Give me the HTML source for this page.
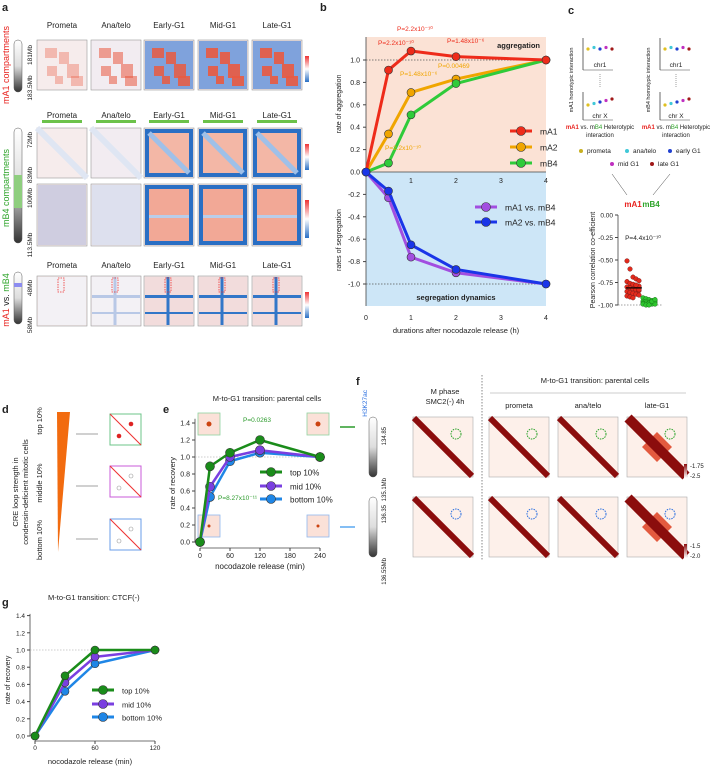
<!DOCTYPE html>
<html><head><meta charset="utf-8"><style>
body{margin:0;background:#fff;}
svg{display:block;font-family:"Liberation Sans",Arial,sans-serif;}
</style></head><body>
<svg id="fig" width="716" height="767" viewBox="0 0 716 767" xmlns="http://www.w3.org/2000/svg">
<g id="A"></g>
<g id="B"></g>
<g id="C"></g>
<g id="D"></g>
<g id="E"></g>
<g id="F"></g>
<g id="G"></g>
</svg>
<script>
// ---- data ----
const bHours = [0, 0.5, 1, 2, 4];
const bMA1 = [0, 0.91, 1.08, 1.03, 1.0];
const bMA2 = [0, 0.34, 0.71, 0.83, 1.0];
const bMB4 = [0, 0.08, 0.51, 0.79, 1.0];
const bSegA1B4 = [0, -0.23, -0.76, -0.90, -1.0];
const bSegA2B4 = [0, -0.17, -0.65, -0.87, -1.0];
const bXTicks = [0, 1, 2, 3, 4];
const bYTicks = [1.0, 0.8, 0.6, 0.4, 0.2, 0.0, -0.2, -0.4, -0.6, -0.8, -1.0];
const eMinutes = [0, 20, 60, 120, 240];
const eTop = [0, 0.89, 1.05, 1.20, 1.00];
const eMid = [0, 0.65, 1.00, 1.08, 1.00];
const eBottom = [0, 0.53, 0.95, 1.05, 1.00];
const eXTicks = [0, 60, 120, 180, 240];
const recYTicks = [0, 0.2, 0.4, 0.6, 0.8, 1.0, 1.2, 1.4];
const gMinutes = [0, 30, 60, 120];
const gTop = [0, 0.70, 1.00, 1.00];
const gMid = [0, 0.62, 0.92, 1.00];
const gBottom = [0, 0.52, 0.84, 1.00];
const gXTicks = [0, 60, 120];
const cMA1 = [-0.51,-0.60,-0.69,-0.71,-0.73,-0.74,-0.76,-0.77,-0.78,-0.79,-0.80,-0.81,-0.82,-0.83,-0.84,-0.85,-0.86,-0.87,-0.88,-0.89,-0.90,-0.91,-0.92,-0.78,-0.83];
const cMB4 = [-0.92,-0.93,-0.94,-0.95,-0.95,-0.96,-0.96,-0.97,-0.97,-0.97,-0.98,-0.98,-0.98,-0.99,-0.99,-0.99,-1.0,-1.0,-0.96,-0.94];
const cYTicks = [0, -0.25, -0.5, -0.75, -1.0];

const NS = "http://www.w3.org/2000/svg";
function el(parent, tag, attrs, text){
  const e = document.createElementNS(NS, tag);
  for (const k in attrs) e.setAttribute(k, attrs[k]);
  if (text !== undefined) e.textContent = text;
  parent.appendChild(e);
  return e;
}
function T(p, x, y, s, size, opts){
  opts = opts || {};
  const t = el(p, 'text', {x:x, y:y, 'font-size':size, fill:opts.fill||'#222', 'text-anchor':opts.anchor||'start', 'font-weight':opts.bold?'bold':'normal'}, s);
  if (opts.rot) t.setAttribute('transform', `rotate(${opts.rot} ${x} ${y})`);
  
  
  return t;
}
function series(p, xs, ys, sx, sy, color, name, w, r){
  const pts = xs.map((x,i)=>sx(x)+','+sy(ys[i])).join(' ');
  const pl = el(p,'polyline',{points:pts, fill:'none', stroke:color, 'stroke-width':w||3, 'stroke-linejoin':'round'});
  
  
  xs.forEach((x,i)=>{
    const c = el(p,'circle',{cx:sx(x), cy:sy(ys[i]), r:r||4, fill:color, stroke:'#333', 'stroke-width':0.6});
    
    
  });
}
function legendEntry(p, x, y, color, label, size){
  el(p,'line',{x1:x, y1:y, x2:x+22, y2:y, stroke:color, 'stroke-width':3});
  const c = el(p,'circle',{cx:x+11, cy:y, r:4.5, fill:color, stroke:'#333','stroke-width':0.6});
  
  
  T(p, x+30, y+3.5, label, size||9, {name:'legend-entry'});
}
function panelLetter(x,y,s){ T(document.getElementById('fig'), x, y, s, 11, {bold:true, name:'panel-letter'}); }
const defs = el(document.getElementById('fig'),'defs',{});

// ---- Panel A (heatmaps) ----
const A = document.getElementById('A');
const stages = ['Prometa','Ana/telo','Early-G1','Mid-G1','Late-G1'];
const colX = [37, 91, 144, 198, 252];
function heat(x,y,w,h,kind,stage){
  const g = el(A,'g',{});
  
  
  const strong = stage>=2;
  const base = stage===0 ? '#f6ecec' : stage===1 ? '#f2ecf1' : '#f3e6e6';
  el(g,'rect',{x:x,y:y,width:w,height:h,fill:base,stroke:'#999','stroke-width':0.6});
  if (kind==='mA1'){
    if (strong){ el(g,'rect',{x:x+1,y:y+1,width:w-2,height:h-2,fill:'#7fa2dc'}); }
    const op = [0.35,0.55,0.85,0.9,0.9][stage];
    [[8,8,12,10],[22,12,10,12],[30,24,12,14],[10,26,10,10],[34,36,12,10],[18,36,8,8]].forEach(b=>{
      el(g,'rect',{x:x+b[0],y:y+b[1],width:b[2],height:b[3],fill:'#ea5a40',opacity:op});
    });
  } else if (kind==='mB4a'){
    if (strong){
      el(g,'rect',{x:x+1,y:y+1,width:w-2,height:h-2,fill:'#2a6fc4'});
      el(g,'rect',{x:x+5,y:y+5,width:w-10,height:h-10,fill:'#f3b7a6'});
      el(g,'line',{x1:x+5,y1:y+5,x2:x+w-5,y2:y+h-5,stroke:'#9fc0e8','stroke-width':5});
    } else {
      el(g,'line',{x1:x,y1:y,x2:x+w,y2:y+h,stroke:'#dfe6f3','stroke-width':6});
    }
  } else if (kind==='mB4b'){
    if (strong){
      el(g,'rect',{x:x+1,y:y+1,width:w-2,height:h-2,fill:'#2a6fc4'});
      el(g,'rect',{x:x+5,y:y+5,width:w-10,height:h-10,fill:'#f2a896'});
      el(g,'rect',{x:x+5,y:y+h*0.5,width:w-10,height:3,fill:'#b9cdea'});
    } else {
      el(g,'rect',{x:x+1,y:y+1,width:w-2,height:h-2,fill: stage===0?'#cfcde0':'#dde0ee'});
    }
  } else {
    el(g,'rect',{x:x+1,y:y+1,width:w-2,height:h-2,fill: strong?'#f2dcdc':'#f3f1f5'});
    if (stage>=1){
      const c = strong?'#3276c8':'#b8c8e6';
      el(g,'rect',{x:x+1,y:y+h*0.38,width:w-2,height:3,fill:c});
      el(g,'rect',{x:x+w*0.45,y:y+1,width:3,height:h-2,fill:c});
      el(g,'rect',{x:x+1,y:y+h*0.72,width:w-2,height:2,fill:c});
    }
    el(g,'rect',{x:x+w*0.42,y:y+2,width:6,height:14,fill:'none',stroke:'#e33','stroke-width':0.8,'stroke-dasharray':'1.5,1'});
  }
}
panelLetter(2,11,'a');
[[28,40,50,'mA1'],[118,128,50,'mB4a'],[null,184,62,'mB4b'],[268,276,50,'mix']].forEach(r=>{
  if (r[0]!==null) stages.forEach((s,i)=>T(A, colX[i]+25, r[0], s, 8, {anchor:'middle',name:'stage-title'}));
  stages.forEach((s,i)=>heat(colX[i], r[1], 50, r[2], r[3], i));
});
colX.forEach(x=>{ el(A,'rect',{x:x+5,y:120,width:40,height:3,fill:'#6cc24a'}); });
function chrom(p,x,y,h){
  const g = el(p,'rect',{x:x,y:y,width:8,height:h,rx:4,fill:'url(#chrGrad)',stroke:'#555','stroke-width':0.5});
   
}
const lg = el(defs,'linearGradient',{id:'chrGrad',x1:0,y1:0,x2:0,y2:1});
el(lg,'stop',{offset:'0%','stop-color':'#fff'}); el(lg,'stop',{offset:'50%','stop-color':'#ddd'}); el(lg,'stop',{offset:'100%','stop-color':'#333'});
chrom(A,14,40,52); chrom(A,14,128,115); chrom(A,14,272,52);
el(A,'rect',{x:14,y:175,width:8,height:33,fill:'#8fce7f'});
el(A,'rect',{x:14,y:283,width:8,height:4,fill:'#8c8cf0'});
T(A,9,65,'mA1 compartments',9,{fill:'#e8231f',rot:-90,anchor:'middle',name:'row-label'});
T(A,9,188,'mB4 compartments',9,{fill:'#2ea42a',rot:-90,anchor:'middle',name:'row-label'});
const r3 = el(A,'text',{x:9,y:300,'font-size':9,'text-anchor':'middle',transform:'rotate(-90 9 300)'});
 
el(r3,'tspan',{fill:'#e8231f'},'mA1 '); el(r3,'tspan',{fill:'#222'},'vs. '); el(r3,'tspan',{fill:'#2ea42a'},'mB4');
[['181Mb',32,55],['183.5Mb',32,88],['72Mb',32,140],['83Mb',32,175],['100Mb',32,198],['113.5Mb',32,245],['48Mb',32,288],['58Mb',32,325]].forEach(l=>T(A,l[1],l[2],l[0],6.5,{rot:-90,anchor:'middle',name:'coordinate-label'}));
const cb = el(defs,'linearGradient',{id:'cbar',x1:0,y1:0,x2:0,y2:1});
el(cb,'stop',{offset:'0%','stop-color':'#e33'}); el(cb,'stop',{offset:'50%','stop-color':'#fff'}); el(cb,'stop',{offset:'100%','stop-color':'#2a6fc4'});
[[304,40,48],[304,128,48],[304,184,60],[304,276,48]].forEach(b=>{
  el(A,'rect',{x:b[0]+1,y:b[1]+16,width:4,height:b[2]-22,fill:'url(#cbar)'});
});

// ---- Panel B ----
const B = document.getElementById('B');
panelLetter(320,11,'b');
const bx = h => 366 + h*45;
const by = v => 172 - v*112;
el(B,'rect',{x:366,y:37,width:180,height:135,fill:'#fbe2d5'});
el(B,'rect',{x:366,y:172,width:180,height:134,fill:'#cde6f7'});
el(B,'line',{x1:366,y1:37,x2:366,y2:306,stroke:'#444','stroke-width':0.8});
el(B,'line',{x1:366,y1:172,x2:546,y2:172,stroke:'#444','stroke-width':0.8});
el(B,'line',{x1:366,y1:by(1),x2:546,y2:by(1),stroke:'#555','stroke-width':0.7,'stroke-dasharray':'1.5,1.5'});
el(B,'line',{x1:366,y1:by(-1),x2:546,y2:by(-1),stroke:'#555','stroke-width':0.7,'stroke-dasharray':'1.5,1.5'});
bYTicks.forEach(v=>{ el(B,'line',{x1:363,y1:by(v),x2:366,y2:by(v),stroke:'#444'}); T(B,360,by(v)+2.5,v.toFixed(1),7,{anchor:'end',name:'y-tick-label'}); });
bXTicks.forEach(v=>{ if(v>0){T(B,bx(v),183,String(v),7,{anchor:'middle',name:'x-tick-label'});} T(B,bx(v),320,String(v),7,{anchor:'middle',name:'x-tick-label'}); });
T(B,456,333,'durations after nocodazole release (h)',7.5,{anchor:'middle',name:'x-axis-title'});
T(B,341,104,'rate of aggregation',7,{rot:-90,anchor:'middle',name:'y-axis-title'});
T(B,341,240,'rates of segregation',7,{rot:-90,anchor:'middle',name:'y-axis-title'});
T(B,540,48,'aggregation',7.5,{anchor:'end',bold:true,name:'region-label'});
T(B,456,300,'segregation dynamics',7.5,{anchor:'middle',bold:true,name:'region-label'});
series(B,bHours,bMA2,bx,by,'#f0a500','mA2');
series(B,bHours,bMB4,bx,by,'#2fcb3a','mB4');
series(B,bHours,bMA1,bx,by,'#ee2b1a','mA1');
series(B,bHours,bSegA1B4,bx,by,'#a24ee0','mA1-vs-mB4');
series(B,bHours,bSegA2B4,bx,by,'#1a35e8','mA2-vs-mB4');
legendEntry(B,510,131,'#ee2b1a','mA1',8.5);
legendEntry(B,510,147,'#f0a500','mA2',8.5);
legendEntry(B,510,163,'#2fcb3a','mB4',8.5);
legendEntry(B,475,207,'#a24ee0','mA1 vs. mB4',8.5);
legendEntry(B,475,222,'#1a35e8','mA2 vs. mB4',8.5);
T(B,378,45,'P=2.2x10⁻¹⁰',6.5,{fill:'#ee2b1a',name:'p-value'});
T(B,397,31,'P=2.2x10⁻¹⁰',6.5,{fill:'#ee2b1a',name:'p-value'});
T(B,447,43,'P=1.48x10⁻⁶',6.5,{fill:'#ee2b1a',name:'p-value'});
T(B,400,76,'P=1.48x10⁻⁶',6.5,{fill:'#f0a500',name:'p-value'});
T(B,438,68,'P=0.00469',6.5,{fill:'#f0a500',name:'p-value'});
T(B,385,150,'P=2.2x10⁻¹⁰',6.5,{fill:'#f0a500',name:'p-value'});

// ---- Panel C ----
const C = document.getElementById('C');
panelLetter(568,14,'c');
[[583,600],[660,676]].forEach((p,k)=>{
  const ax=p[0], cx=p[1];
  el(C,'line',{x1:ax,y1:38,x2:ax,y2:70,stroke:'#444','stroke-width':0.8});
  el(C,'line',{x1:ax,y1:70,x2:ax+30,y2:70,stroke:'#444','stroke-width':0.6});
  el(C,'line',{x1:ax,y1:92,x2:ax,y2:120,stroke:'#444','stroke-width':0.8});
  el(C,'line',{x1:ax,y1:120,x2:ax+30,y2:120,stroke:'#444','stroke-width':0.6});
  T(C,cx,67,'chr1',6.5,{anchor:'middle',name:'schematic-label'});
  T(C,cx,118,'chr X',6.5,{anchor:'middle',name:'schematic-label'});
  el(C,'line',{x1:cx,y1:74,x2:cx,y2:88,stroke:'#444','stroke-width':0.5,'stroke-dasharray':'1,1'});
  ['#e0c020','#40c8d8','#2040d0','#c030c0','#a01818'].forEach((c,i)=>{
    el(C,'circle',{cx:ax+5+i*6,cy:49-(i%2)*1.5,r:1.6,fill:c});
    el(C,'circle',{cx:ax+5+i*6,cy:105-i*1.5,r:1.6,fill:c});
  });
  T(C,ax-10,80,(k?'mB4':'mA1')+' homotypic interaction',5.5,{rot:-90,anchor:'middle',name:'schematic-label'});
  const ht = el(C,'text',{x:cx,y:129,'font-size':6,'text-anchor':'middle'});
   
  el(ht,'tspan',{fill:'#e8231f','font-weight':'bold'},'mA1'); el(ht,'tspan',{fill:'#222'},' vs. m'); el(ht,'tspan',{fill:'#2ea42a'},'B4'); el(ht,'tspan',{fill:'#222'},' Heterotypic');
  T(C,cx,137,'interaction',6,{anchor:'middle',name:'schematic-label'});
});
[['prometa','#c8b020',581,153],['ana/telo','#40c8d8',627,153],['early G1','#2040d0',670,153],['mid G1','#c030c0',612,166],['late G1','#a01818',652,166]].forEach(l=>{
  el(C,'circle',{cx:l[2],cy:l[3]-2,r:2,fill:l[1]});
  T(C,l[2]+6,l[3],l[0],6.5,{name:'legend-entry'});
});
el(C,'line',{x1:612,y1:174,x2:627,y2:195,stroke:'#444','stroke-width':0.5});
el(C,'line',{x1:670,y1:174,x2:653,y2:195,stroke:'#444','stroke-width':0.5});
T(C,633,207,'mA1',8,{fill:'#e8231f',anchor:'middle',bold:true,name:'group-label'});
T(C,651,207,'mB4',8,{fill:'#2ea42a',anchor:'middle',bold:true,name:'group-label'});
const cy = v => 215 - v*90;
el(C,'line',{x1:618,y1:215,x2:618,y2:305,stroke:'#444','stroke-width':0.8});
el(C,'line',{x1:618,y1:305,x2:662,y2:305,stroke:'#444','stroke-width':0.6,'stroke-dasharray':'1.5,1.5'});
cYTicks.forEach(v=>{ el(C,'line',{x1:615,y1:cy(v),x2:618,y2:cy(v),stroke:'#444'}); T(C,613,cy(v)+2.5,v.toFixed(2),6.5,{anchor:'end',name:'y-tick-label'}); });
T(C,595,260,'Pearson correlation co-efficient',7,{rot:-90,anchor:'middle',name:'y-axis-title'});
T(C,643,240,'P=4.4x10⁻¹⁰',6.5,{anchor:'middle',name:'p-value'});
cMA1.forEach((v,i)=>{ const c=el(C,'circle',{cx:627+(i%5)*3,cy:cy(v),r:2.3,fill:'#e32a1c',stroke:'#611','stroke-width':0.4});   });
cMB4.forEach((v,i)=>{ const c=el(C,'circle',{cx:643+(i%5)*3,cy:cy(v),r:2.3,fill:'#2ec52e',stroke:'#161','stroke-width':0.4});   });
el(C,'line',{x1:626,y1:cy(-0.81),x2:642,y2:cy(-0.81),stroke:'#000','stroke-width':1.2});

// ---- Panel D ----
const D = document.getElementById('D');
panelLetter(2,413,'d');
T(D,18,492,'CRE loop strength in',7.5,{rot:-90,anchor:'middle',name:'y-axis-title'});
T(D,28,492,'condensin-deficient mitotic cells',7.5,{rot:-90,anchor:'middle',name:'y-axis-title'});
el(D,'polygon',{points:'57,412 70,412 58,552',fill:'#f26b0f'});
[['top 10%',421],['middle 10%',483],['bottom 10%',540]].forEach(l=>T(D,42,l[1],l[0],7.5,{rot:-90,anchor:'middle',name:'group-label'}));
[[414,'#6cc48a'],[466,'#c95bd8'],[519,'#6a9de8']].forEach((b,i)=>{
  el(D,'line',{x1:76,y1:b[0]+20,x2:98,y2:b[0]+20,stroke:'#444','stroke-width':0.6});
  el(D,'rect',{x:110,y:b[0],width:31,height:31,fill:'#fff',stroke:b[1],'stroke-width':1});
  el(D,'line',{x1:110,y1:b[0],x2:141,y2:b[0]+31,stroke:'#e33','stroke-width':1});
  el(D,'circle',{cx:131,cy:b[0]+10,r:2,fill:i?'#fff':'#d22',stroke:i?'#999':'#d22','stroke-width':0.6});
  el(D,'circle',{cx:119,cy:b[0]+22,r:2,fill:i?'#fff':'#d22',stroke:i?'#999':'#d22','stroke-width':0.6});
});

// ---- Panel E ----
const E = document.getElementById('E');
panelLetter(163,413,'e');
const ex = m => 200 + m*0.5;
const ey = v => 542 - v*85;
T(E,267,401,'M-to-G1 transition: parental cells',7.5,{anchor:'middle',name:'chart-title'});
el(E,'line',{x1:195,y1:ey(1.45),x2:195,y2:ey(0),stroke:'#444','stroke-width':0.8});
el(E,'line',{x1:ex(0),y1:548,x2:ex(240),y2:548,stroke:'#444','stroke-width':0.8});
el(E,'line',{x1:195,y1:ey(1),x2:ex(240),y2:ey(1),stroke:'#999','stroke-width':0.6,'stroke-dasharray':'1.5,1.5'});
recYTicks.forEach(v=>{ el(E,'line',{x1:192,y1:ey(v),x2:195,y2:ey(v),stroke:'#444'}); T(E,190,ey(v)+2.5,v.toFixed(1),7,{anchor:'end',name:'y-tick-label'}); });
eXTicks.forEach(v=>{ el(E,'line',{x1:ex(v),y1:548,x2:ex(v),y2:551,stroke:'#444'}); T(E,ex(v),558,String(v),7,{anchor:'middle',name:'x-tick-label'}); });
T(E,260,569,'nocodazole release (min)',8,{anchor:'middle',name:'x-axis-title'});
T(E,175,483,'rate of recovery',7.5,{rot:-90,anchor:'middle',name:'y-axis-title'});
[[198,413],[307,413],[198,515],[307,515]].forEach((p,i)=>{
  el(E,'rect',{x:p[0],y:p[1],width:22,height:22,fill:'#fbe1d8',stroke:i<2?'#8fd3a0':'#8fb8ef','stroke-width':0.8});
  el(E,'circle',{cx:p[0]+11,cy:p[1]+11,r:i<2?2.5:1.5,fill:'#c41'});
});
series(E,eMinutes,eBottom,ex,ey,'#1f86e6','bottom-10',2.5,4.5);
series(E,eMinutes,eMid,ex,ey,'#7a3fe0','mid-10',2.5,4.5);
series(E,eMinutes,eTop,ex,ey,'#1a8c1a','top-10',2.5,4.5);
legendEntry(E,260,472,'#1a8c1a','top 10%',8);
legendEntry(E,260,486,'#7a3fe0','mid 10%',8);
legendEntry(E,260,499,'#1f86e6','bottom 10%',8);
T(E,243,422,'P=0.0263',6.5,{fill:'#2a9a2a',name:'p-value'});
T(E,218,500,'P=8.27x10⁻¹¹',6.5,{fill:'#2a9a2a',name:'p-value'});
el(E,'line',{x1:340,y1:427,x2:355,y2:427,stroke:'#2a9a2a','stroke-width':1.5});
el(E,'line',{x1:340,y1:527,x2:355,y2:527,stroke:'#5aa8f0','stroke-width':1.5});

// ---- Panel F ----
const F = document.getElementById('F');
panelLetter(356,385,'f');
T(F,367,390,'H3K27ac',6.5,{fill:'#2a6fe0',rot:-90,anchor:'end',name:'track-label'});
T(F,445,394,'M phase',7.5,{anchor:'middle',name:'column-title'});
T(F,445,404,'SMC2(-) 4h',7.5,{anchor:'middle',name:'column-title'});
T(F,595,383,'M-to-G1 transition: parental cells',7.5,{anchor:'middle',name:'column-title'});
el(F,'line',{x1:490,y1:393,x2:686,y2:393,stroke:'#999','stroke-width':0.6});
el(F,'line',{x1:482,y1:375,x2:482,y2:560,stroke:'#555','stroke-width':0.7,'stroke-dasharray':'1.5,1.5'});
[['prometa',519],['ana/telo',588],['late-G1',657]].forEach(l=>T(F,l[1],408,l[0],7.5,{anchor:'middle',name:'column-title'}));
chrom(F,369,417,60); chrom(F,369,497,60);
T(F,386,427,'134.85',6,{rot:-90,anchor:'end',name:'coordinate-label'});
T(F,386,478,'135.1Mb',6,{rot:-90,anchor:'end',name:'coordinate-label'});
T(F,386,505,'136.35',6,{rot:-90,anchor:'end',name:'coordinate-label'});
T(F,386,558,'136.55Mb',6,{rot:-90,anchor:'end',name:'coordinate-label'});
[413,489,558,627].forEach((cx0,i)=>{
  [417,497].forEach((y,r)=>{
    const g=el(F,'g',{});  
    el(g,'rect',{x:cx0,y:y,width:60,height:60,fill:'#fdf0ea',stroke:'#aaa','stroke-width':0.6});
    if(i===3) el(g,'polygon',{points:`${cx0+15},${y+30} ${cx0+30},${y+15} ${cx0+45},${y+30} ${cx0+30},${y+45}`,fill:'#e35a3f'});
    el(g,'line',{x1:cx0+1,y1:y+1,x2:cx0+59,y2:y+59,stroke:'#8b0d0d','stroke-width':i===3?10:6});
    el(g,'circle',{cx:cx0+43,cy:y+17,r:5,fill:'none',stroke:r?'#2a6fe0':'#2aa32a','stroke-width':1,'stroke-dasharray':'1.5,1'});
  });
});
const rg = el(defs,'linearGradient',{id:'red',x1:0,y1:0,x2:0,y2:1});
el(rg,'stop',{offset:'0%','stop-color':'#8b0d0d'}); el(rg,'stop',{offset:'100%','stop-color':'#fff'});
[[690,478,'-1.75','-2.5'],[690,558,'-1.5','-2.0']].forEach(b=>{
  el(F,'rect',{x:b[0]-6,y:b[1]-14,width:3,height:14,fill:'url(#red)'});
  T(F,b[0],b[1]-10,b[2],6,{name:'colorbar-label'}); T(F,b[0],b[1],b[3],6,{name:'colorbar-label'});
});

// ---- Panel G ----
const G = document.getElementById('G');
panelLetter(2,606,'g');
const gx = m => 35 + m;
const gy = v => 736 - v*86;
T(G,48,600,'M-to-G1 transition: CTCF(-)',7.5,{name:'chart-title'});
el(G,'line',{x1:30,y1:gy(1.42),x2:30,y2:gy(0),stroke:'#444','stroke-width':0.8});
el(G,'line',{x1:gx(0),y1:741,x2:gx(120),y2:741,stroke:'#444','stroke-width':0.8});
el(G,'line',{x1:30,y1:gy(1),x2:gx(120),y2:gy(1),stroke:'#999','stroke-width':0.6,'stroke-dasharray':'1.5,1.5'});
recYTicks.forEach(v=>{ el(G,'line',{x1:27,y1:gy(v),x2:30,y2:gy(v),stroke:'#444'}); T(G,25,gy(v)+2.5,v.toFixed(1),6.5,{anchor:'end',name:'y-tick-label'}); });
gXTicks.forEach(v=>{ el(G,'line',{x1:gx(v),y1:741,x2:gx(v),y2:744,stroke:'#444'}); T(G,gx(v),750,String(v),6.5,{anchor:'middle',name:'x-tick-label'}); });
T(G,90,764,'nocodazole release (min)',7.5,{anchor:'middle',name:'x-axis-title'});
T(G,10,680,'rate of recovery',7,{rot:-90,anchor:'middle',name:'y-axis-title'});
series(G,gMinutes,gBottom,gx,gy,'#1f86e6','bottom-10',2.5,4);
series(G,gMinutes,gMid,gx,gy,'#7a3fe0','mid-10',2.5,4);
series(G,gMinutes,gTop,gx,gy,'#1a8c1a','top-10',2.5,4);
legendEntry(G,92,690,'#1a8c1a','top 10%',7.5);
legendEntry(G,92,704,'#7a3fe0','mid 10%',7.5);
legendEntry(G,92,717,'#1f86e6','bottom 10%',7.5);
</script>
</body></html>
